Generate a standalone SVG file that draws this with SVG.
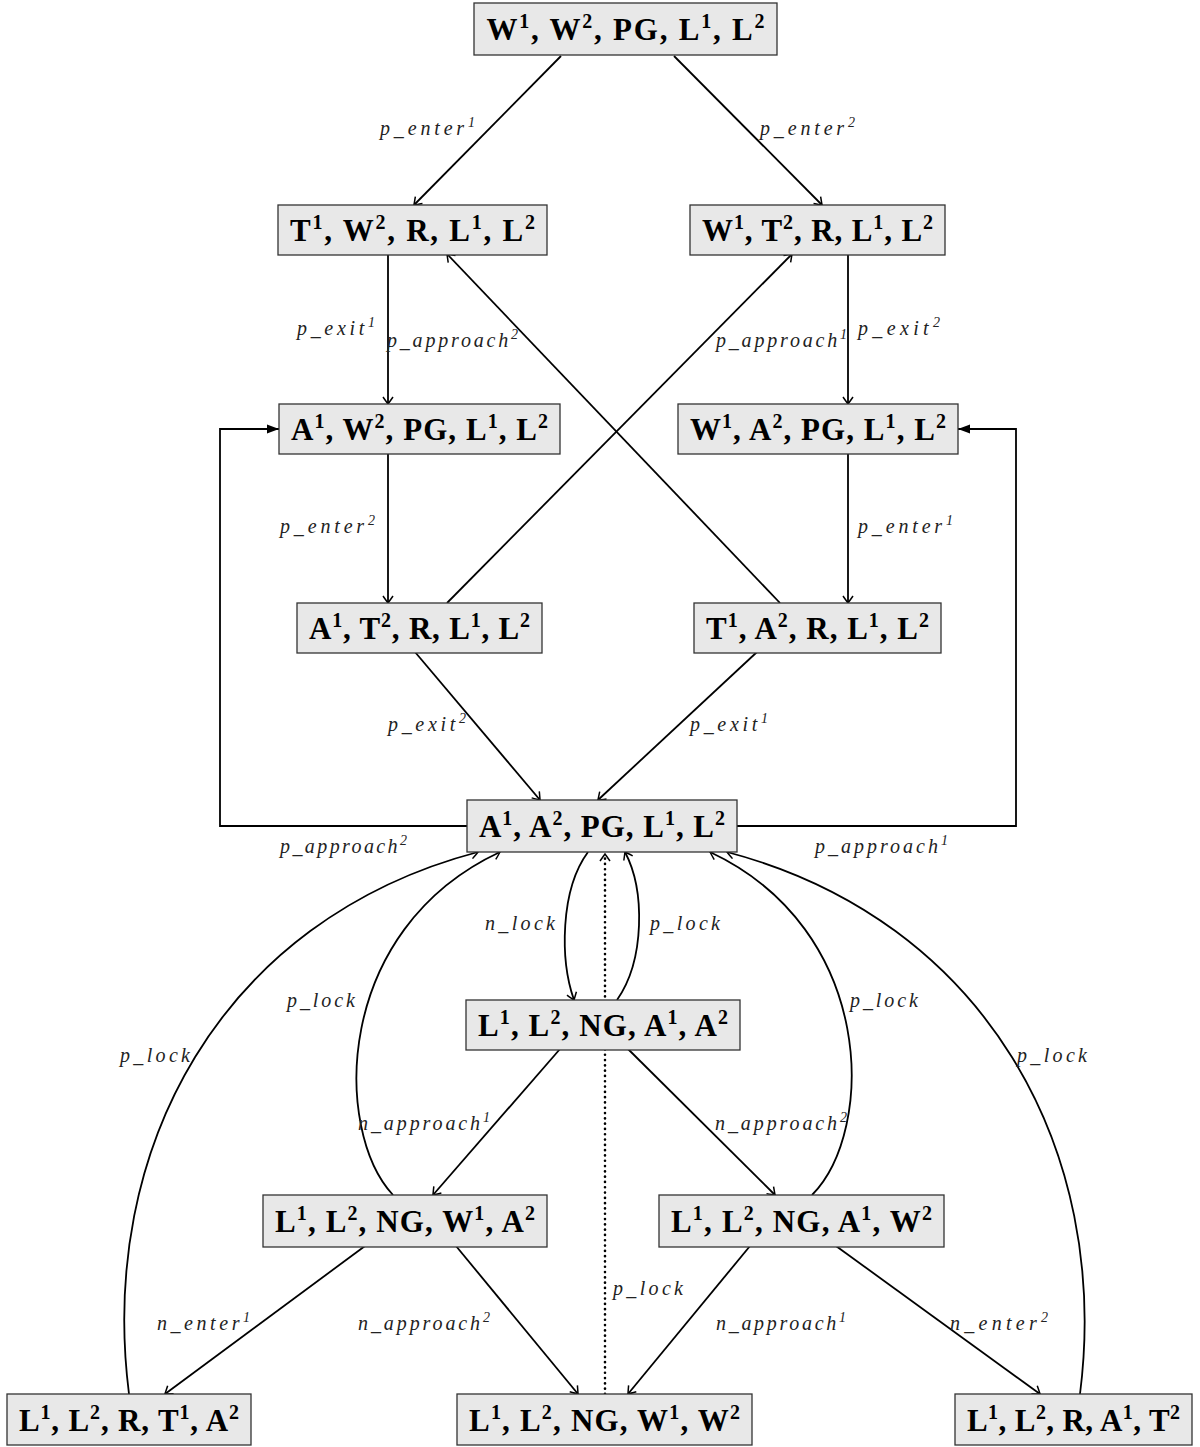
<svg xmlns="http://www.w3.org/2000/svg" width="1200" height="1447" viewBox="0 0 1200 1447">
<style>
.box{fill:#e8e8e8;stroke:#333;stroke-width:1.3}
.nt{font-family:"Liberation Serif","DejaVu Serif",serif;font-weight:bold;font-size:31px;fill:#000;text-anchor:middle}
.lb{font-family:"Liberation Serif","DejaVu Serif",serif;font-style:italic;font-size:20px;fill:#222}
.e{fill:none;stroke:#000;stroke-width:1.8;marker-end:url(#open)}
.f{fill:none;stroke:#000;stroke-width:1.8;marker-end:url(#fill)}
.d{fill:none;stroke:#000;stroke-width:2.6;stroke-dasharray:0.1 5.2;stroke-linecap:round;marker-end:url(#open)}
</style>
<defs>
<marker id="open" viewBox="-10 -7 12 14" refX="0" refY="0" markerWidth="12" markerHeight="14" orient="auto" markerUnits="userSpaceOnUse">
<path d="M-7,-5 Q-2,-1.5 0,0 Q-2,1.5 -7,5" fill="none" stroke="#000" stroke-width="1.5"/>
</marker>
<marker id="fill" viewBox="-13 -7 14 14" refX="0" refY="0" markerWidth="14" markerHeight="14" orient="auto" markerUnits="userSpaceOnUse">
<path d="M-12,-4.5 L0,0 L-12,4.5 z" fill="#000"/>
</marker>
</defs>

<g id="connectors">
<path class="e" d="M561,56 L414,205"/>
<path class="e" d="M674,56 L822,205"/>
<path class="e" d="M388,254 L388,404"/>
<path class="e" d="M848,254 L848,404"/>
<path class="e" d="M388,453 L388,603"/>
<path class="e" d="M848,453 L848,603"/>
<path class="e" d="M447,603 L792,254"/>
<path class="e" d="M780,603 L447,254"/>
<path class="e" d="M415,652 L540,800"/>
<path class="e" d="M757,652 L598,800"/>
<path class="f" d="M467,826 H220 V429 H279"/>
<path class="f" d="M737,826 H1016 V429 H958"/>
<path class="e" d="M588,852 C560,890 560,960 574,1000"/>
<path class="e" d="M617,1000 C645,960 645,890 625,852"/>
<path class="d" d="M605,1394 L605,854"/>
<path class="e" d="M560,1049 L433,1195"/>
<path class="e" d="M628,1049 L775,1195"/>
<path class="e" d="M393,1195 C333,1130 333,930 500,852"/>
<path class="e" d="M812,1195 C876,1130 876,930 710,852"/>
<path class="e" d="M129,1394 C98,1150 220,920 478,852"/>
<path class="e" d="M1080,1394 C1111,1150 985,920 727,852"/>
<path class="e" d="M365,1246 L165,1394"/>
<path class="e" d="M456,1246 L578,1394"/>
<path class="e" d="M750,1246 L628,1394"/>
<path class="e" d="M836,1246 L1040,1394"/>
</g>

<g id="labels">
<text class="lb" x="380" y="135" textLength="95">p_enter<tspan dy="-8" font-size="14">1</tspan></text>
<text class="lb" x="760" y="135" textLength="95">p_enter<tspan dy="-8" font-size="14">2</tspan></text>
<text class="lb" x="297" y="335" textLength="78">p_exit<tspan dy="-8" font-size="14">1</tspan></text>
<text class="lb" x="387" y="347" textLength="131">p_approach<tspan dy="-8" font-size="14">2</tspan></text>
<text class="lb" x="716" y="347" textLength="131">p_approach<tspan dy="-8" font-size="14">1</tspan></text>
<text class="lb" x="858" y="335" textLength="82">p_exit<tspan dy="-8" font-size="14">2</tspan></text>
<text class="lb" x="280" y="533" textLength="95">p_enter<tspan dy="-8" font-size="14">2</tspan></text>
<text class="lb" x="858" y="533" textLength="95">p_enter<tspan dy="-8" font-size="14">1</tspan></text>
<text class="lb" x="388" y="731" textLength="78">p_exit<tspan dy="-8" font-size="14">2</tspan></text>
<text class="lb" x="690" y="731" textLength="78">p_exit<tspan dy="-8" font-size="14">1</tspan></text>
<text class="lb" x="280" y="853" textLength="127">p_approach<tspan dy="-8" font-size="14">2</tspan></text>
<text class="lb" x="815" y="853" textLength="133">p_approach<tspan dy="-8" font-size="14">1</tspan></text>
<text class="lb" x="485" y="930" textLength="70">n_lock</text>
<text class="lb" x="650" y="930" textLength="70">p_lock</text>
<text class="lb" x="287" y="1007" textLength="68">p_lock</text>
<text class="lb" x="850" y="1007" textLength="68">p_lock</text>
<text class="lb" x="120" y="1062" textLength="70">p_lock</text>
<text class="lb" x="1017" y="1062" textLength="70">p_lock</text>
<text class="lb" x="358" y="1130" textLength="132">n_approach<tspan dy="-8" font-size="14">1</tspan></text>
<text class="lb" x="715" y="1130" textLength="132">n_approach<tspan dy="-8" font-size="14">2</tspan></text>
<text class="lb" x="613" y="1295" textLength="70">p_lock</text>
<text class="lb" x="157" y="1330" textLength="93">n_enter<tspan dy="-8" font-size="14">1</tspan></text>
<text class="lb" x="358" y="1330" textLength="132">n_approach<tspan dy="-8" font-size="14">2</tspan></text>
<text class="lb" x="716" y="1330" textLength="130">n_approach<tspan dy="-8" font-size="14">1</tspan></text>
<text class="lb" x="950" y="1330" textLength="98">n_enter<tspan dy="-8" font-size="14">2</tspan></text>
</g>

<g id="n0"><rect class="box" x="474" y="3" width="303" height="52"/><text class="nt" x="625.5" y="40" textLength="278">W<tspan dy="-12" font-size="20">1</tspan><tspan dy="12">, W</tspan><tspan dy="-12" font-size="20">2</tspan><tspan dy="12">, PG, L</tspan><tspan dy="-12" font-size="20">1</tspan><tspan dy="12">, L</tspan><tspan dy="-12" font-size="20">2</tspan></text></g>
<g id="n1"><rect class="box" x="278" y="205" width="269" height="50"/><text class="nt" x="412.5" y="241" textLength="245">T<tspan dy="-12" font-size="20">1</tspan><tspan dy="12">, W</tspan><tspan dy="-12" font-size="20">2</tspan><tspan dy="12">, R, L</tspan><tspan dy="-12" font-size="20">1</tspan><tspan dy="12">, L</tspan><tspan dy="-12" font-size="20">2</tspan></text></g>
<g id="n2"><rect class="box" x="690" y="205" width="255" height="50"/><text class="nt" x="817.5" y="241" textLength="231">W<tspan dy="-12" font-size="20">1</tspan><tspan dy="12">, T</tspan><tspan dy="-12" font-size="20">2</tspan><tspan dy="12">, R, L</tspan><tspan dy="-12" font-size="20">1</tspan><tspan dy="12">, L</tspan><tspan dy="-12" font-size="20">2</tspan></text></g>
<g id="n3"><rect class="box" x="279" y="404" width="281" height="50"/><text class="nt" x="419.5" y="440" textLength="257">A<tspan dy="-12" font-size="20">1</tspan><tspan dy="12">, W</tspan><tspan dy="-12" font-size="20">2</tspan><tspan dy="12">, PG, L</tspan><tspan dy="-12" font-size="20">1</tspan><tspan dy="12">, L</tspan><tspan dy="-12" font-size="20">2</tspan></text></g>
<g id="n4"><rect class="box" x="678" y="404" width="280" height="50"/><text class="nt" x="818" y="440" textLength="256">W<tspan dy="-12" font-size="20">1</tspan><tspan dy="12">, A</tspan><tspan dy="-12" font-size="20">2</tspan><tspan dy="12">, PG, L</tspan><tspan dy="-12" font-size="20">1</tspan><tspan dy="12">, L</tspan><tspan dy="-12" font-size="20">2</tspan></text></g>
<g id="n5"><rect class="box" x="297" y="603" width="245" height="50"/><text class="nt" x="419.5" y="639" textLength="221">A<tspan dy="-12" font-size="20">1</tspan><tspan dy="12">, T</tspan><tspan dy="-12" font-size="20">2</tspan><tspan dy="12">, R, L</tspan><tspan dy="-12" font-size="20">1</tspan><tspan dy="12">, L</tspan><tspan dy="-12" font-size="20">2</tspan></text></g>
<g id="n6"><rect class="box" x="694" y="603" width="247" height="50"/><text class="nt" x="817.5" y="639" textLength="223">T<tspan dy="-12" font-size="20">1</tspan><tspan dy="12">, A</tspan><tspan dy="-12" font-size="20">2</tspan><tspan dy="12">, R, L</tspan><tspan dy="-12" font-size="20">1</tspan><tspan dy="12">, L</tspan><tspan dy="-12" font-size="20">2</tspan></text></g>
<g id="n7"><rect class="box" x="467" y="800" width="270" height="52"/><text class="nt" x="602" y="837" textLength="246">A<tspan dy="-12" font-size="20">1</tspan><tspan dy="12">, A</tspan><tspan dy="-12" font-size="20">2</tspan><tspan dy="12">, PG, L</tspan><tspan dy="-12" font-size="20">1</tspan><tspan dy="12">, L</tspan><tspan dy="-12" font-size="20">2</tspan></text></g>
<g id="n8"><rect class="box" x="466" y="1000" width="274" height="50"/><text class="nt" x="603" y="1036" textLength="250">L<tspan dy="-12" font-size="20">1</tspan><tspan dy="12">, L</tspan><tspan dy="-12" font-size="20">2</tspan><tspan dy="12">, NG, A</tspan><tspan dy="-12" font-size="20">1</tspan><tspan dy="12">, A</tspan><tspan dy="-12" font-size="20">2</tspan></text></g>
<g id="n9"><rect class="box" x="263" y="1195" width="284" height="52"/><text class="nt" x="405" y="1232" textLength="260">L<tspan dy="-12" font-size="20">1</tspan><tspan dy="12">, L</tspan><tspan dy="-12" font-size="20">2</tspan><tspan dy="12">, NG, W</tspan><tspan dy="-12" font-size="20">1</tspan><tspan dy="12">, A</tspan><tspan dy="-12" font-size="20">2</tspan></text></g>
<g id="n10"><rect class="box" x="659" y="1195" width="285" height="52"/><text class="nt" x="801.5" y="1232" textLength="261">L<tspan dy="-12" font-size="20">1</tspan><tspan dy="12">, L</tspan><tspan dy="-12" font-size="20">2</tspan><tspan dy="12">, NG, A</tspan><tspan dy="-12" font-size="20">1</tspan><tspan dy="12">, W</tspan><tspan dy="-12" font-size="20">2</tspan></text></g>
<g id="n11"><rect class="box" x="7" y="1394" width="244" height="51"/><text class="nt" x="129" y="1431" textLength="220">L<tspan dy="-12" font-size="20">1</tspan><tspan dy="12">, L</tspan><tspan dy="-12" font-size="20">2</tspan><tspan dy="12">, R, T</tspan><tspan dy="-12" font-size="20">1</tspan><tspan dy="12">, A</tspan><tspan dy="-12" font-size="20">2</tspan></text></g>
<g id="n12"><rect class="box" x="457" y="1394" width="295" height="51"/><text class="nt" x="604.5" y="1431" textLength="271">L<tspan dy="-12" font-size="20">1</tspan><tspan dy="12">, L</tspan><tspan dy="-12" font-size="20">2</tspan><tspan dy="12">, NG, W</tspan><tspan dy="-12" font-size="20">1</tspan><tspan dy="12">, W</tspan><tspan dy="-12" font-size="20">2</tspan></text></g>
<g id="n13"><rect class="box" x="955" y="1394" width="237" height="51"/><text class="nt" x="1073.5" y="1431" textLength="213">L<tspan dy="-12" font-size="20">1</tspan><tspan dy="12">, L</tspan><tspan dy="-12" font-size="20">2</tspan><tspan dy="12">, R, A</tspan><tspan dy="-12" font-size="20">1</tspan><tspan dy="12">, T</tspan><tspan dy="-12" font-size="20">2</tspan></text></g>
</svg>
